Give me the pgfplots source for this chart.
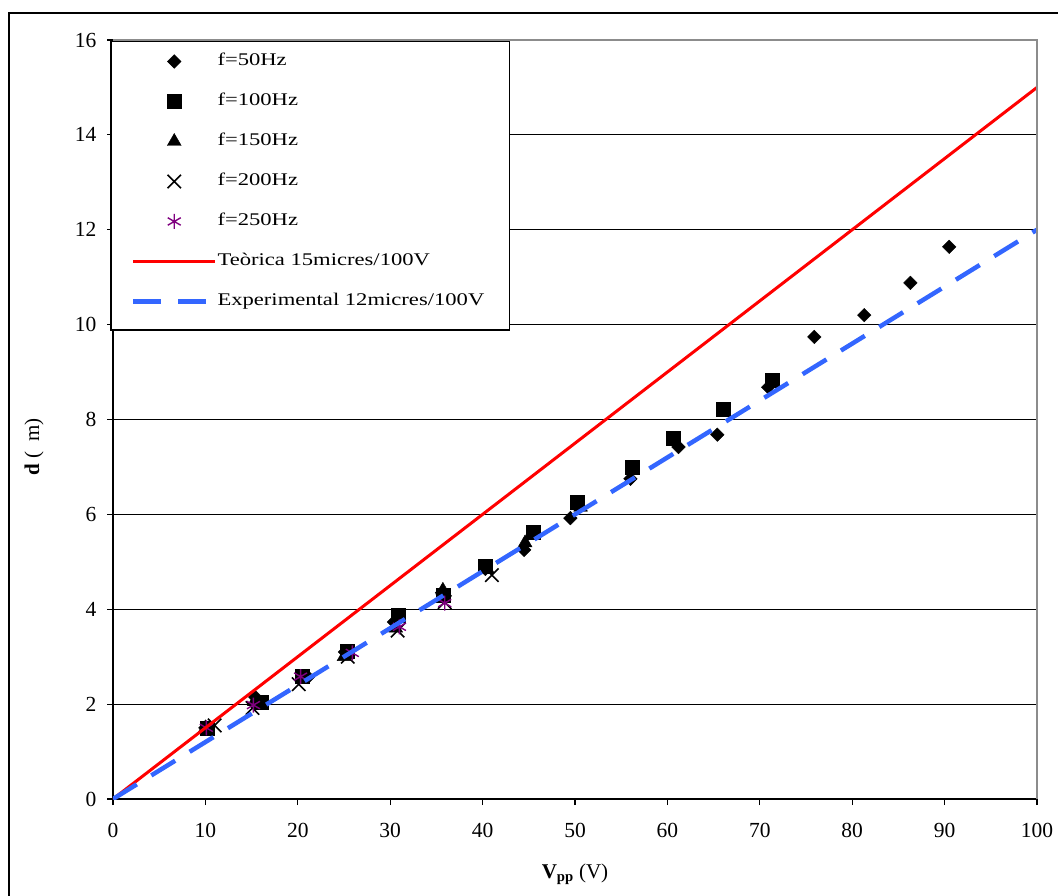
\documentclass[border=0pt]{standalone}
\usepackage{fontspec}
\setmainfont{Liberation Serif}
\newfontfamily\legfont[FakeStretch=1.27]{Liberation Serif}
\usepackage{pgfplots}
\pgfplotsset{compat=1.18}
\definecolor{expblue}{RGB}{51,102,255}
\definecolor{purp}{RGB}{128,0,128}
\definecolor{bordergray}{RGB}{140,140,140}
\begin{document}
\begin{tikzpicture}
\path[use as bounding box] (0,0) rectangle (1058pt,895pt);
\draw[black, line width=1.5pt] (9pt,882pt) rectangle (1090pt,-30pt);
\begin{axis}[
  at={(113pt,96pt)}, anchor=south west,
  scale only axis, width=924pt, height=759pt,
  xmin=0, xmax=100, ymin=0, ymax=16,
  axis x line*=bottom, axis y line*=left,
  axis line style={black, line width=1.3pt, -},
  xtick={0,10,...,100}, ytick={0,2,...,16},
  tick align=outside, major tick length=6pt,
  tick style={black, line width=1.2pt},
  ymajorgrids, grid style={black, line width=1.1pt},
  ticklabel style={font=\fontsize{21.5}{25}\selectfont},
  /pgf/number format/assume math mode=true,
  xticklabel style={yshift=-15pt},
  yticklabel style={xshift=-7pt},
  xlabel={\textbf{V\textsubscript{pp}} (V)},
  ylabel={\textbf{d} (\hspace{0.45em}m)},
  label style={font=\fontsize{21}{25}\selectfont},
  xlabel style={at={(axis description cs:0.5,-0.0988)}, anchor=center},
  ylabel style={at={(axis description cs:-0.0855,0.4638)}, anchor=center},
  clip mode=individual,
  legend image code/.code={\draw[mark repeat=2,mark phase=2,#1] plot coordinates {(0pt,0pt) (41pt,0pt) (82pt,0pt)};},
  legend style={draw=none, fill=none, inner sep=0pt, outer sep=0pt,
    at={(axis description cs:0.01948,0.9829)}, anchor=north west,
    font=\legfont\fontsize{17.8}{21}\selectfont, row sep=23pt,
    nodes={inner xsep=0pt, inner ysep=0pt, text height=13pt, text depth=4pt},
    /tikz/every even column/.append style={column sep=5pt}},
  legend cell align=left,
]
\addplot[only marks, mark=square*, mark size=4.8pt, mark options={rotate=45, fill=black, draw=black}] coordinates {
(10,1.5)(15.4,2.15)(21.1,2.57)(25.1,3.1)(30.4,3.73)(35.6,4.35)(40.3,4.85)(44.5,5.25)(49.5,5.92)(56,6.75)(61.2,7.42)(65.4,7.68)(70.9,8.68)(75.9,9.74)(81.3,10.2)(86.3,10.88)(90.5,11.64)};
\addlegendentry{f=50Hz}
\addplot[only marks, mark=square*, mark size=7pt, mark options={fill=black, draw=black}] coordinates {
(10.2,1.5)(16,2.05)(20.5,2.58)(25.4,3.12)(30.9,3.88)(35.7,4.3)(40.3,4.9)(45.5,5.62)(50.2,6.25)(56.2,7.0)(60.6,7.6)(66,8.22)(71.3,8.82)};
\addlegendentry{f=100Hz}
\addplot[only marks, mark=triangle*, mark size=8pt, mark options={fill=black, draw=black}] coordinates {
(10,1.5)(15.3,2.05)(20.5,2.55)(25,3.0)(30.6,3.6)(35.7,4.4)(40.5,4.85)(44.6,5.4)(50.6,6.15)};
\addlegendentry{f=150Hz}
\addplot[only marks, mark=x, mark size=9.5pt, mark options={draw=black, line width=1.6pt}] coordinates {
(11,1.55)(15.1,1.92)(20.1,2.42)(25.4,3.0)(30.8,3.55)(35.9,4.15)(41,4.72)};
\addlegendentry{f=200Hz}
\addplot[only marks, mark=asterisk, mark size=7.5pt, mark options={draw=purp, line width=1.4pt}] coordinates {
(10.1,1.5)(15.2,1.98)(20.3,2.58)(25.9,3.08)(31,3.63)(35.9,4.13)};
\addlegendentry{f=250Hz}
\addplot[red, line width=3pt, no marks] coordinates {(0,0) (100,15)};
\addlegendentry{Teòrica 15micres/100V}
\addplot[expblue, line width=4.5pt, no marks, dash pattern=on 28pt off 17pt, line cap=butt] coordinates {(0,0) (100,12)};
\addlegendentry{Experimental 12micres/100V}
\draw[black, line width=1.2pt, fill=white] (axis cs:-0.22,15.98) rectangle (axis cs:42.9,9.886);
\draw[bordergray, line width=2.5pt] (rel axis cs:0,1) -- (rel axis cs:1,1) -- (rel axis cs:1,0);
\end{axis}
\end{tikzpicture}
\end{document}
